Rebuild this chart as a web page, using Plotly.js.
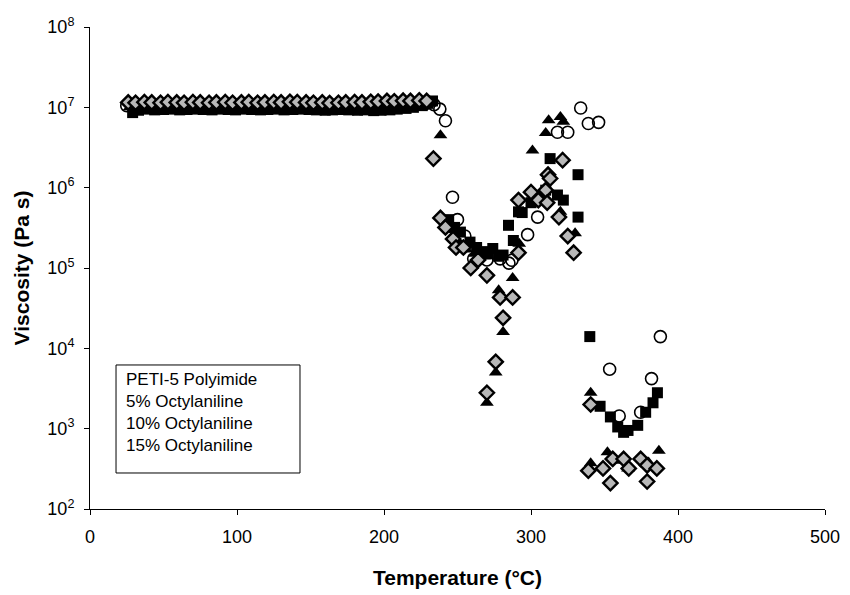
<!DOCTYPE html>
<html>
<head>
<meta charset="utf-8">
<script src="https://cdn.plot.ly/plotly-3.0.1.min.js"></script>
<style>html,body{margin:0;padding:0;background:#fff;}#chart{width:850px;height:595px;}</style>
</head>
<body>
<div id="chart"></div>
<script>
// Series names (legend text)
const seriesNames = ["PETI-5 Polyimide", "5% Octylaniline", "10% Octylaniline", "15% Octylaniline"];

// PETI-5 Polyimide (open circles)
const circT = [25,30,36,41,47,52,58,63,69,74,80,85,91,96,102,107,113,118,124,129,135,140,146,151,157,162,168,173,179,184,190,195,201,206,212,217,223,228,234,238,
  241.8,246.6,250,255,261,270,279,285,287,297.7,304.5,318,325,333.8,339,346,353.5,360,374.6,382,388];
const circV = [1.05e7,1.02e7,1.04e7,1.03e7,1.05e7,1.04e7,1.03e7,1.05e7,1.04e7,1.03e7,1.04e7,1.05e7,1.03e7,1.04e7,1.05e7,1.03e7,1.04e7,1.05e7,1.04e7,1.03e7,1.05e7,1.06e7,1.04e7,1.05e7,1.03e7,1.04e7,1.05e7,1.06e7,1.04e7,1.05e7,1.06e7,1.07e7,1.08e7,1.07e7,1.09e7,1.1e7,1.12e7,1.1e7,1.08e7,9.5e6,
  6.8e6,7.6e5,4.0e5,2.5e5,1.3e5,1.26e5,1.3e5,1.15e5,1.25e5,2.6e5,4.3e5,4.9e6,4.9e6,9.8e6,6.3e6,6.5e6,5.5e3,1.44e3,1.6e3,4.2e3,1.4e4];

// 5% Octylaniline (filled squares)
const sqT = [29,33,39,44,50,55,61,66,72,77,83,88,94,99,105,110,116,121,127,132,138,143,149,154,160,165,171,176,182,187,193,198,204,209,215,220,226,230,233,
  244,248,252,258.5,263,267,271,274,278,281,284.7,288,291.5,294,300,305,310,313,318,322,332,332,340,
  347,354,359,363,366,372.6,378,383,386];
const sqV = [8.6e6,9.2e6,9.5e6,9.3e6,9.4e6,9.5e6,9.3e6,9.4e6,9.5e6,9.4e6,9.3e6,9.5e6,9.4e6,9.3e6,9.5e6,9.4e6,9.3e6,9.4e6,9.5e6,9.3e6,9.4e6,9.5e6,9.4e6,9.3e6,9.2e6,9.3e6,9.4e6,9.3e6,9.2e6,9.3e6,9.1e6,9.2e6,9.3e6,9.5e6,9.7e6,1.0e7,1.05e7,1.12e7,1.2e7,
  4.0e5,3.2e5,2.8e5,2.1e5,1.8e5,1.6e5,1.5e5,1.75e5,1.4e5,1.45e5,3.4e5,2.2e5,5.0e5,4.9e5,6.5e5,8.0e5,9.3e5,2.3e6,8.1e5,7.0e5,1.45e6,4.3e5,1.4e4,
  1.9e3,1.4e3,1.05e3,9.0e2,9.5e2,1.1e3,1.6e3,2.1e3,2.8e3];

// 10% Octylaniline (filled triangles)
const triT = [27,32,38,43,49,54,60,65,71,76,82,87,93,98,104,109,115,120,126,131,137,142,148,153,159,164,170,175,181,186,192,197,203,208,214,219,225,231,
  238.4,245,250,256,262,268,270,276,281,278,287.5,292,301,310,312,320,322,320,330,
  340.6,340.6,352,361,366,380,387];
const triV = [1.0e7,1.01e7,1.0e7,1.02e7,1.0e7,1.01e7,1.0e7,1.02e7,1.01e7,1.0e7,1.01e7,1.02e7,1.0e7,1.01e7,1.02e7,1.0e7,1.01e7,1.02e7,1.01e7,1.0e7,1.02e7,1.03e7,1.01e7,1.02e7,1.0e7,1.01e7,1.02e7,1.01e7,1.0e7,1.01e7,1.03e7,1.04e7,1.05e7,1.06e7,1.08e7,1.09e7,1.1e7,1.12e7,
  4.5e6,3.0e5,2.2e5,1.7e5,1.5e5,1.4e5,2.1e3,5.0e3,1.6e4,5.3e4,7.5e4,2.0e5,2.9e6,4.8e6,6.9e6,7.6e6,6.6e6,5.0e5,2.7e5,
  2.8e3,3.7e2,5.1e2,4.0e2,3.2e2,3.8e2,5.3e2];

// 15% Octylaniline (grey diamonds)
const diaT = [26,31,37,42,48,53,59,64,70,75,81,86,92,97,103,108,114,119,125,130,136,141,147,152,158,163,169,174,180,185,191,196,202,207,213,218,224,229,
  233.6,238.4,241.8,247,249,254,259,264,270,270,276,279,281,287.5,291.5,291.5,300,305,310,311,311.6,313,319,321.5,325,329,
  340.6,339,349,354,355.6,363,366.5,374.6,379,379,385.6];
const diaV = [1.15e7,1.14e7,1.16e7,1.15e7,1.14e7,1.16e7,1.15e7,1.14e7,1.16e7,1.15e7,1.14e7,1.15e7,1.16e7,1.14e7,1.15e7,1.16e7,1.14e7,1.15e7,1.16e7,1.15e7,1.17e7,1.16e7,1.15e7,1.14e7,1.15e7,1.13e7,1.14e7,1.15e7,1.16e7,1.15e7,1.17e7,1.18e7,1.2e7,1.19e7,1.21e7,1.2e7,1.22e7,1.2e7,
  2.3e6,4.2e5,3.2e5,2.3e5,1.8e5,1.8e5,1.0e5,1.26e5,8.1e4,2.8e3,6.8e3,4.3e4,2.4e4,4.3e4,1.55e5,7.0e5,8.8e5,7.0e5,9.3e5,6.5e5,1.45e6,1.3e6,4.3e5,2.2e6,2.5e5,1.55e5,
  2.0e3,3.0e2,3.2e2,2.1e2,4.2e2,4.2e2,3.2e2,4.2e2,3.5e2,2.2e2,3.2e2];

// Axis ticks
const xTicks = [0,100,200,300,400,500];
const yTickVals = [1e2,1e3,1e4,1e5,1e6,1e7,1e8];
const yTickText = ["10<sup>2</sup>","10<sup>3</sup>","10<sup>4</sup>","10<sup>5</sup>","10<sup>6</sup>","10<sup>7</sup>","10<sup>8</sup>"];

const traces = [
  {x: circT, y: circV, name: seriesNames[0], type: 'scatter', mode: 'markers',
   marker: {symbol: 'circle-open', size: 12, color: '#000', line: {width: 1.6, color: '#000'}}},
  {x: sqT, y: sqV, name: seriesNames[1], type: 'scatter', mode: 'markers',
   marker: {symbol: 'square', size: 11, color: '#000'}},
  {x: triT, y: triV, name: seriesNames[2], type: 'scatter', mode: 'markers',
   marker: {symbol: 'triangle-up', size: 12, color: '#000'}},
  {x: diaT, y: diaV, name: seriesNames[3], type: 'scatter', mode: 'markers',
   marker: {symbol: 'diamond', size: 11, color: '#b8b8b8', line: {width: 2.4, color: '#000'}}}
];

const layout = {
  width: 850, height: 595,
  margin: {l: 90, r: 25, t: 27, b: 86},
  paper_bgcolor: '#fff', plot_bgcolor: '#fff',
  showlegend: false,
  font: {family: 'Liberation Sans, Arial, sans-serif', color: '#000', size: 18},
  xaxis: {
    range: [0, 500], tickvals: xTicks, ticks: 'outside', ticklen: 5, tickwidth: 1, tickcolor: '#000',
    showline: true, linecolor: '#000', linewidth: 1, showgrid: false, zeroline: false, mirror: false,
    tickfont: {size: 18}, ticklabelstandoff: 6,
    title: {text: '<b>Temperature (°C)</b>', font: {size: 21}, standoff: 24}
  },
  yaxis: {
    type: 'log', range: [2, 8], tickvals: yTickVals, ticktext: yTickText, ticks: 'outside', ticklen: 5,
    tickwidth: 1, tickcolor: '#000',
    showline: true, linecolor: '#000', linewidth: 1, showgrid: false, zeroline: false, mirror: false,
    tickfont: {size: 18}, ticklabelstandoff: 6,
    title: {text: '<b>Viscosity (Pa s)</b>', font: {size: 21}, standoff: 12}
  },
  shapes: [
    {type: 'rect', xref: 'paper', yref: 'paper', x0: 0.0354, x1: 0.2857, y0: 0.0747, y1: 0.2988,
     line: {color: '#000', width: 1}, fillcolor: '#fff', layer: 'above'}
  ],
  annotations: [
    {xref: 'paper', yref: 'paper', x: 0.046, y: 0.293, xanchor: 'left', yanchor: 'top', align: 'left',
     showarrow: false, font: {size: 17, color: '#000'},
     text: seriesNames.join('<br>')}
  ]
};

Plotly.newPlot('chart', traces, layout, {displayModeBar: false, staticPlot: true});
</script>
</body>
</html>
